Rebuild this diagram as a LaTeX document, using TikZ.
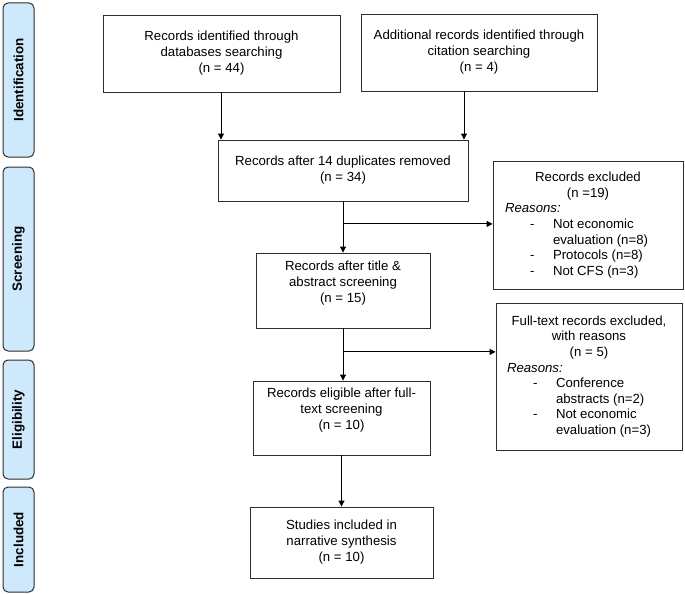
\documentclass[tikz,border=0pt]{standalone}
\usepackage{fontspec}
\setmainfont{Liberation Sans}
\usetikzlibrary{arrows.meta,calc}
\definecolor{sidefill}{RGB}{206,233,251}
\definecolor{edge}{RGB}{45,45,45}
\newcommand{\mainfs}{\fontsize{13.2}{16}\selectfont}
\begin{document}
\begin{tikzpicture}[x=1pt,y=-1pt,
  box/.style={draw=edge,line width=0.9pt,fill=white,align=center,inner sep=0pt,
    font=\mainfs},
  side/.style={draw=edge,line width=1pt,fill=sidefill,rounded corners=5pt,inner sep=0pt},
  sidetext/.style={rotate=90,font=\bfseries\fontsize{13.4}{15}\selectfont},
  arr/.style={draw=black,line width=0.9pt,-{Triangle[length=6pt,width=6pt]}}]
\useasboundingbox (0,0) rectangle (685,594);
% side labels
\node[side,minimum width=31pt,minimum height=154pt] (s1) at (18.5,80) {};
\node[sidetext] (s1t) at (s1.center) {Identification};
\node[side,minimum width=31pt,minimum height=184pt] (s2) at (18.5,259) {};
\node[sidetext] (s2t) at (s2.center) {Screening};
\node[side,minimum width=31pt,minimum height=119pt] (s3) at (18.5,419.5) {};
\node[sidetext] (s3t) at (s3.center) {Eligibility};
\node[side,minimum width=31pt,minimum height=105pt] (s4) at (18.5,539.5) {};
\node[sidetext] (s4t) at (s4.center) {Included};
% main boxes
\node[box,minimum width=237pt,minimum height=77pt] (b1) at (221.5,53.5)
  {Records identified through\\databases searching\\(n = 44)};
\node[box,minimum width=236pt,minimum height=77pt] (b2) at (479,52.5)
  {Additional records identified through\\citation searching\\(n = 4)};
\node[box,minimum width=250pt,minimum height=61pt] (b3) at (343,170.5)
  {Records after 14 duplicates removed\\(n = 34)};
\node[box,minimum width=174pt,minimum height=75pt] (b4) at (343,290.5)
  {Records after title \&\\abstract screening\\(n = 15)\\[2pt]};
\node[box,minimum width=177pt,minimum height=74pt] (b5) at (341.5,418)
  {Records eligible after full-\\text screening\\(n = 10)\\[2pt]};
\node[box,minimum width=183pt,minimum height=71pt] (b6) at (341.5,542.5)
  {Studies included in\\narrative synthesis\\(n = 10)};
% exclusion boxes
\node[box,minimum width=190pt,minimum height=128pt] (e1) at (588,225) {%
  \begin{minipage}{172pt}\fontsize{13.2}{15.6}\selectfont
  \centering Records excluded\\(n =19)\par
  \raggedright\hspace*{3pt}\textit{Reasons:}\par
  \hspace*{28pt}\makebox[23pt][l]{-}Not economic\par
  \hspace*{51pt}evaluation (n=8)\par
  \hspace*{28pt}\makebox[23pt][l]{-}Protocols (n=8)\par
  \hspace*{28pt}\makebox[23pt][l]{-}Not CFS (n=3)\par
  \end{minipage}};
\node[box,minimum width=186pt,minimum height=147pt] (e2) at (589,376.5) {%
  \begin{minipage}{172pt}\fontsize{13.2}{15.6}\selectfont
  \centering Full-text records excluded,\\with reasons\\(n = 5)\par
  \raggedright\hspace*{4pt}\textit{Reasons:}\par
  \hspace*{30pt}\makebox[23pt][l]{-}Conference\par
  \hspace*{53pt}abstracts (n=2)\par
  \hspace*{30pt}\makebox[23pt][l]{-}Not economic\par
  \hspace*{53pt}evaluation (n=3)\par
  \end{minipage}};
% connectors
\draw[arr] ([xshift=-0.5pt]b1.south) -- ([xshift=-0.5pt]b1.south |- b3.north);
\draw[arr] ([xshift=-15pt]b2.south) -- ([xshift=-15pt]b2.south |- b3.north);
\draw[arr] (b3.south) -- (b4.north);
\draw[arr] (b4.south) -- (b4.south |- b5.north);
\draw[arr] (b5.south) -- (b6.north);
\coordinate (j1) at ($(b3.south)!0.44!(b4.north)$);
\coordinate (j2) at ($(b4.south)!0.45!(b4.south |- b5.north)$);
\draw[arr] (j1) -- (j1 -| e1.west);
\draw[arr] (j2) -- (j2 -| e2.west);
\end{tikzpicture}
\end{document}
